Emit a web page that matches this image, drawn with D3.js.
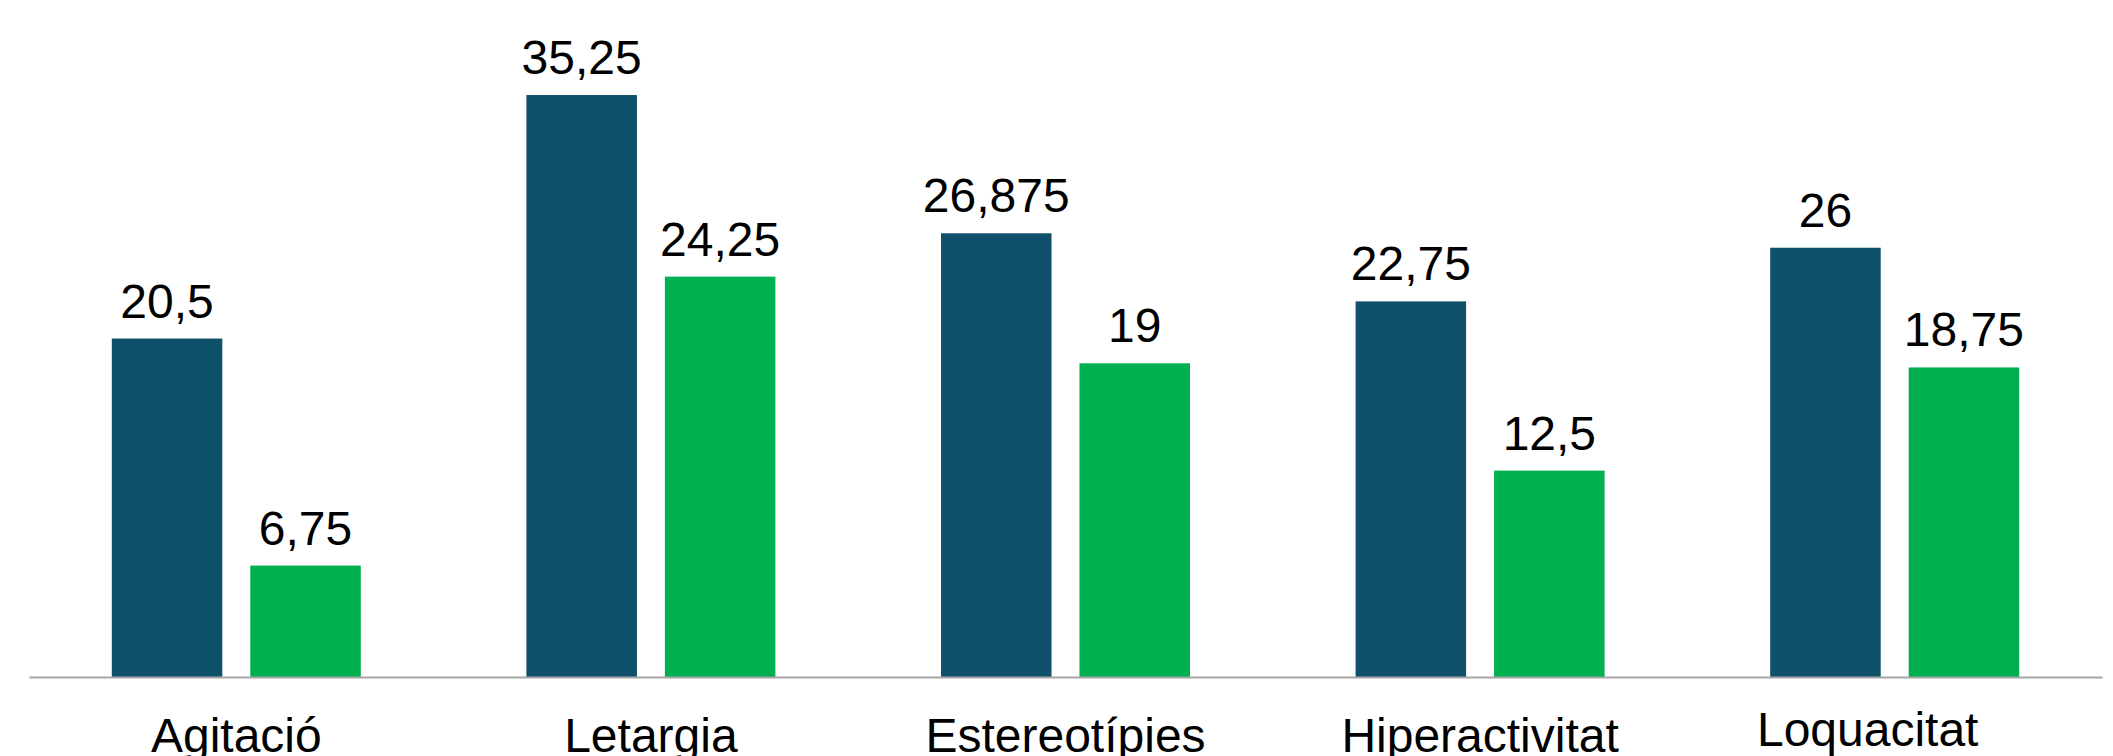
<html><head>
<meta charset="utf-8">
<script src="https://cdnjs.cloudflare.com/ajax/libs/d3/7.8.5/d3.min.js"></script>
<style>
  body { margin: 0; background: #fff; }
  text { font-family: "Liberation Sans", Arial, sans-serif; fill: #000; }
</style>
</head>
<body>
<div id="chart"></div>
<script>
const categories = ["Agitació", "Letargia", "Estereotípies", "Hiperactivitat", "Loquacitat"];
const series = ["A", "B"];
const valuesA = [20.5, 35.25, 26.875, 22.75, 26];
const valuesB = [6.75, 24.25, 19, 12.5, 18.75];
const labelsA = ["20,5", "35,25", "26,875", "22,75", "26"];
const labelsB = ["6,75", "24,25", "19", "12,5", "18,75"];
const colors = ["#0F506B", "#00AF50"];

const width = 2113, height = 756;
const axisY = 677;

const svg = d3.select("#chart").append("svg")
  .attr("width", width)
  .attr("height", height);

const x0 = d3.scaleBand()
  .domain(categories)
  .range([29, 2102]);

const groupW = 249;
const x1 = d3.scaleBand()
  .domain(series)
  .range([x0.bandwidth() / 2 - groupW / 2, x0.bandwidth() / 2 + groupW / 2])
  .paddingInner(0.202);

const y = d3.scaleLinear()
  .domain([0, 40])
  .range([axisY, axisY - 40 * 16.51]);

const rows = categories.map((c, i) => ({
  cat: c,
  bars: [
    { s: "A", v: valuesA[i], label: labelsA[i] },
    { s: "B", v: valuesB[i], label: labelsB[i] }
  ]
}));

const g = svg.selectAll(".grp").data(rows).enter().append("g")
  .attr("class", "grp")
  .attr("transform", d => `translate(${x0(d.cat)},0)`);

g.selectAll("rect").data(d => d.bars).enter().append("rect")
  .attr("x", d => x1(d.s))
  .attr("width", x1.bandwidth())
  .attr("y", d => y(d.v))
  .attr("height", d => y(0) - y(d.v))
  .attr("fill", (d, i) => colors[i]);

g.selectAll(".val").data(d => d.bars).enter().append("text")
  .attr("class", "val")
  .attr("x", d => x1(d.s) + x1.bandwidth() / 2)
  .attr("y", d => y(d.v) - 21)
  .attr("text-anchor", "middle")
  .attr("font-size", 48)
  .text(d => d.label);

// axis line + category labels (last label sits a bit higher and to the left, as in the original)
const xAxis = svg.append("g")
  .attr("transform", `translate(0,${axisY})`)
  .call(d3.axisBottom(x0).tickSize(0).tickPadding(0));
xAxis.select(".domain").attr("stroke", "#A6A6A6").attr("stroke-width", 2);
xAxis.selectAll(".tick text")
  .attr("font-size", 48)
  .attr("fill", "#000")
  .attr("dy", null)
  .attr("x", d => d === "Loquacitat" ? -27 : 0)
  .attr("y", d => d === "Loquacitat" ? 69 : 75);
</script>
</body></html>
